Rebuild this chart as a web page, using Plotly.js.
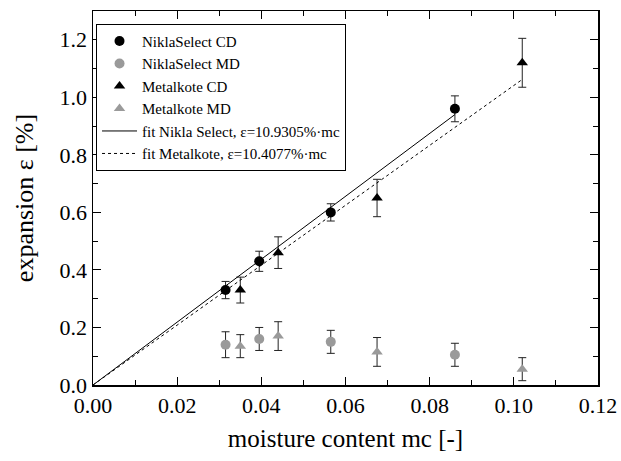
<!DOCTYPE html>
<html><head><meta charset="utf-8">
<script src="https://cdn.plot.ly/plotly-3.0.1.min.js"></script>
<style>body{margin:0;background:#fff}#c{width:621px;height:461px}</style>
</head><body><div id="c"></div>
<script>
const niklaCD_x = [0.0315, 0.0395, 0.0565, 0.086];
const niklaCD_y = [0.33, 0.43, 0.60, 0.96];
const niklaCD_e = [0.03, 0.035, 0.03, 0.045];
const niklaMD_x = [0.0315, 0.0395, 0.0565, 0.086];
const niklaMD_y = [0.14, 0.16, 0.15, 0.105];
const niklaMD_e = [0.045, 0.04, 0.04, 0.04];
const metalCD_x = [0.035, 0.044, 0.0675, 0.102];
const metalCD_y = [0.33, 0.46, 0.65, 1.12];
const metalCD_e = [0.045, 0.055, 0.065, 0.085];
const metalMD_x = [0.035, 0.044, 0.0675, 0.102];
const metalMD_y = [0.135, 0.17, 0.115, 0.055];
const metalMD_e = [0.04, 0.05, 0.05, 0.04];
const fitNikla_x = [0, 0.086];
const fitNikla_y = [0, 0.940];
const fitMetal_x = [0, 0.102];
const fitMetal_y = [0, 1.062];
const names = ["NiklaSelect CD","NiklaSelect MD","Metalkote CD","Metalkote MD",
  "fit Nikla Select, ε=10.9305%·mc","fit Metalkote, ε=10.4077%·mc"];

const black = "#000000", grey = "#9a9a9a", errc = "#222222";
function pts(x,y,e,name,sym,col){
  return {x:x,y:y,name:name,type:"scatter",mode:"markers",
    marker:{symbol:sym,size:10,color:col},
    error_y:{type:"data",array:e,visible:true,color:errc,thickness:1,width:4},cliponaxis:false};
}
const data = [
  pts(niklaCD_x,niklaCD_y,niklaCD_e,names[0],"circle",black),
  pts(niklaMD_x,niklaMD_y,niklaMD_e,names[1],"circle",grey),
  pts(metalCD_x,metalCD_y,metalCD_e,names[2],"triangle-up",black),
  pts(metalMD_x,metalMD_y,metalMD_e,names[3],"triangle-up",grey),
  {x:fitNikla_x,y:fitNikla_y,name:names[4],type:"scatter",mode:"lines",line:{color:black,width:1}},
  {x:fitMetal_x,y:fitMetal_y,name:names[5],type:"scatter",mode:"lines",line:{color:black,width:1,dash:"dot"}}
];
const axBase = {showgrid:false,zeroline:false,showline:true,linecolor:"#000",linewidth:1.5,mirror:"ticks",
  ticks:"inside",ticklen:8,tickcolor:"#000",tickfont:{size:22,color:"#000"},automargin:false};
const layout = {
  width:621,height:461,margin:{l:93,r:23,t:11,b:76},
  paper_bgcolor:"#fff",plot_bgcolor:"#fff",
  font:{family:"Liberation Serif, Times New Roman, serif",color:"#000"},
  showlegend:true,
  legend:{x:0.006,y:0.966,xanchor:"left",yanchor:"top",bordercolor:"#000",borderwidth:1,
    bgcolor:"#fff",font:{size:15,color:"#000"},tracegroupgap:0,itemwidth:35},
  xaxis:Object.assign({},axBase,{range:[0,0.12],dtick:0.02,tickformat:".2f",
    minor:{dtick:0.01,ticks:"inside",ticklen:5,tickcolor:"#000"},
    title:{text:"moisture content mc [-]",font:{size:25},standoff:12}}),
  yaxis:Object.assign({},axBase,{range:[0,1.3],dtick:0.2,tickformat:".1f",
    minor:{dtick:0.1,ticks:"inside",ticklen:5,tickcolor:"#000"},
    title:{text:"expansion ε [%]",font:{size:26},standoff:18}})
};
Plotly.newPlot("c",data,layout,{displayModeBar:false,staticPlot:true});
</script></body></html>
